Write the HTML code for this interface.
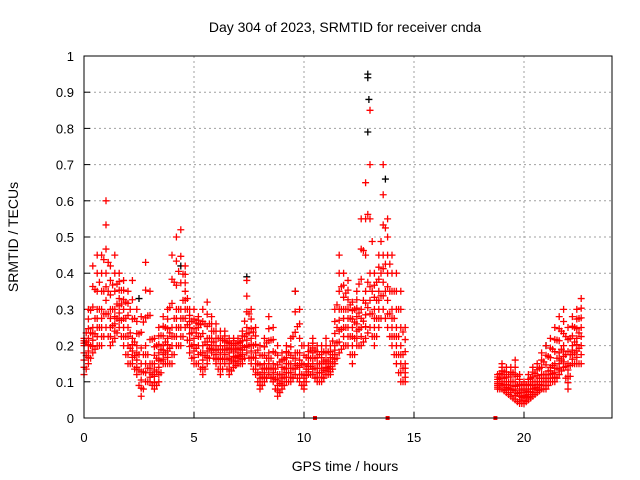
<!DOCTYPE html>
<html><head><meta charset="utf-8"><style>
body{margin:0;background:#fff;}
svg{display:block;font-family:"Liberation Sans",sans-serif;}
</style></head><body>
<svg id="chart" width="640" height="480" viewBox="0 0 640 480" xmlns="http://www.w3.org/2000/svg">
<text x="345" y="32" font-size="14" text-anchor="middle">Day 304 of 2023, SRMTID for receiver cnda</text>
<text x="345" y="471" font-size="14" text-anchor="middle">GPS time / hours</text>
<text x="18" y="237" font-size="14" text-anchor="middle" transform="rotate(-90 18 237)">SRMTID / TECUs</text>
<g id="grid"></g>
<g id="axes"></g>
<g id="marks"></g>
<rect x="84" y="56" width="528" height="362" fill="none" stroke="#000" stroke-width="1"/>
</svg>
<script>
const xTicks=[0,5,10,15,20];
const yTicks=[0,0.1,0.2,0.3,0.4,0.5,0.6,0.7,0.8,0.9,1];
const yTickLabels=["0","0.1","0.2","0.3","0.4","0.5","0.6","0.7","0.8","0.9","1"];
const hours=[0.0,0.2,0.4,0.6,0.8,1.0,1.2,1.4,1.6,1.8,2.0,2.2,2.4,2.6,2.8,3.0,3.2,3.4,3.6,3.8,4.0,4.2,4.4,4.6,4.8,5.0,5.2,5.4,5.6,5.8,6.0,6.2,6.4,6.6,6.8,7.0,7.2,7.4,7.6,7.8,8.0,8.2,8.4,8.6,8.8,9.0,9.2,9.4,9.6,9.8,10.0,10.2,10.4,10.6,10.8,11.0,11.2,11.4,11.6,11.8,12.0,12.2,12.4,12.6,12.8,13.0,13.2,13.4,13.6,13.8,14.0,14.2,14.4,14.6,
18.8,19.0,19.2,19.4,19.6,19.8,20.0,20.2,20.4,20.6,20.8,21.0,21.2,21.4,21.6,21.8,22.0,22.2,22.4,22.6];
const lowVals=[0.12,0.15,0.18,0.2,0.2,0.25,0.2,0.22,0.25,0.2,0.15,0.15,0.12,0.06,0.1,0.1,0.08,0.1,0.15,0.15,0.15,0.2,0.2,0.25,0.18,0.15,0.15,0.12,0.15,0.18,0.15,0.12,0.15,0.12,0.14,0.15,0.15,0.18,0.15,0.12,0.08,0.1,0.12,0.1,0.06,0.08,0.1,0.1,0.12,0.1,0.08,0.12,0.12,0.1,0.1,0.12,0.12,0.15,0.18,0.2,0.2,0.15,0.2,0.2,0.22,0.25,0.2,0.25,0.3,0.25,0.2,0.15,0.1,0.1,
0.08,0.08,0.07,0.06,0.05,0.04,0.04,0.05,0.06,0.07,0.08,0.08,0.1,0.1,0.12,0.14,0.08,0.15,0.15,0.15];
const midVals=[0.2,0.22,0.25,0.3,0.3,0.4,0.3,0.3,0.33,0.3,0.25,0.22,0.2,0.15,0.2,0.15,0.15,0.18,0.2,0.22,0.25,0.3,0.3,0.35,0.25,0.22,0.25,0.2,0.22,0.22,0.2,0.18,0.2,0.18,0.2,0.18,0.2,0.25,0.22,0.18,0.12,0.15,0.18,0.15,0.12,0.12,0.15,0.15,0.18,0.18,0.12,0.15,0.18,0.15,0.15,0.16,0.15,0.2,0.3,0.3,0.3,0.25,0.28,0.3,0.35,0.4,0.3,0.35,0.45,0.4,0.3,0.25,0.2,0.15,
0.1,0.12,0.1,0.1,0.1,0.08,0.07,0.08,0.1,0.1,0.12,0.12,0.14,0.15,0.18,0.2,0.15,0.2,0.22,0.25];
const highVals=[0.22,0.3,0.42,0.45,0.45,0.6,0.42,0.45,0.4,0.38,0.35,0.38,0.3,0.28,0.43,0.35,0.22,0.25,0.28,0.3,0.45,0.5,0.52,0.42,0.3,0.3,0.28,0.3,0.32,0.28,0.26,0.24,0.24,0.22,0.22,0.22,0.24,0.38,0.3,0.25,0.2,0.22,0.28,0.25,0.2,0.18,0.2,0.22,0.35,0.3,0.2,0.2,0.22,0.2,0.2,0.22,0.2,0.3,0.45,0.4,0.38,0.32,0.35,0.55,0.65,0.85,0.4,0.45,0.7,0.55,0.45,0.4,0.35,0.25,
0.12,0.15,0.14,0.14,0.16,0.12,0.1,0.12,0.14,0.15,0.18,0.2,0.22,0.25,0.28,0.3,0.25,0.28,0.3,0.33];
const blackHours=[12.9,12.9,12.95,12.9,2.5,7.4,9.6,4.4,21.0,13.7];
const blackVals=[0.95,0.94,0.88,0.79,0.33,0.39,0.35,0.42,0.2,0.66];
const zeroHours=[10.5,13.8,18.7];

const NS="http://www.w3.org/2000/svg";
const X=h=>84+h*22, Y=v=>418-v*362;
const grid=document.getElementById('grid'),axes=document.getElementById('axes'),marks=document.getElementById('marks');
function mk(tag,attrs,parent){const e=document.createElementNS(NS,tag);for(const k in attrs)e.setAttribute(k,attrs[k]);parent.appendChild(e);return e;}
xTicks.forEach(t=>{
  const g=mk('line',{x1:X(t),x2:X(t),y1:56,y2:418,stroke:'#a0a0a0','stroke-dasharray':'2,3'},grid);
  
  
  const tk=mk('line',{x1:X(t),x2:X(t),y1:418,y2:412,stroke:'#000'},axes);
  
  
  const tx=mk('text',{x:X(t),y:442,'font-size':13,'text-anchor':'middle'},axes);
  tx.textContent=String(t);
  
  
});
yTicks.forEach((v,i)=>{
  const g=mk('line',{x1:84,x2:612,y1:Y(v),y2:Y(v),stroke:'#a0a0a0','stroke-dasharray':'2,3'},grid);
  
  
  const tk=mk('line',{x1:84,x2:90,y1:Y(v),y2:Y(v),stroke:'#000'},axes);
  
  
  const tx=mk('text',{x:74,y:Y(v)+5,'font-size':13,'text-anchor':'end'},axes);
  tx.textContent=yTickLabels[i];
  
  
});
function plus(h,v,color,name){
  const x=X(h),y=Y(v);
  const p=mk('path',{d:`M${x-3.5} ${y}H${x+3.5}M${x} ${y-3.5}V${y+3.5}`,stroke:color,'stroke-width':1.3,fill:'none'},marks);
  
  
}
blackHours.forEach((h,i)=>plus(h,blackVals[i],'#000','black-point'));
hours.forEach((h,i)=>{
  const lo=lowVals[i],mi=midVals[i],hi=highVals[i];
  [lo,(3*lo+mi)/4,(lo+mi)/2,(lo+3*mi)/4,mi,(2*mi+hi)/3,(mi+2*hi)/3,hi].forEach(v=>plus(h,v,'#f00','red-point'));
  if(i+1<hours.length && hours[i+1]-h<0.3){
    const h2=(h+hours[i+1])/2;
    const l2=(lo+lowVals[i+1])/2,m2=(mi+midVals[i+1])/2,u2=(hi+highVals[i+1])/2;
    [l2,(l2+m2)/2,m2,(m2+u2)/2].forEach(v=>plus(h2,v,'#f00','red-point'));
  }
});
zeroHours.forEach(h=>{
  const r=mk('rect',{x:X(h)-2,y:416,width:4,height:4,fill:'#f00'},marks);
  
  
});
</script>
</body></html>
